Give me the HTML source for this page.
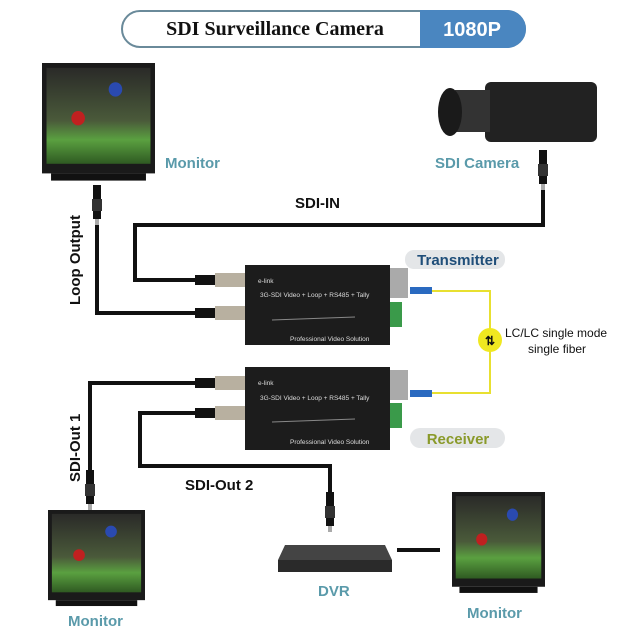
<!DOCTYPE html>
<html><head><meta charset="utf-8"><style>
html,body{margin:0;padding:0;background:#fff}
svg{display:block}
.lbl{font-family:"Liberation Sans",sans-serif;font-weight:bold;fill:#5a9aaa;font-size:15px}
.blk{font-family:"Liberation Sans",sans-serif;font-weight:bold;fill:#111;font-size:15px}
.box{font-family:"Liberation Sans",sans-serif;fill:#ddd;font-size:6.5px}
</style></head><body>
<svg width="640" height="640" viewBox="0 0 640 640" xmlns="http://www.w3.org/2000/svg">
<defs>
<linearGradient id="scr" x1="0" y1="0" x2="0" y2="1">
<stop offset="0" stop-color="#2a2a28"/><stop offset="0.55" stop-color="#4a5a3a"/><stop offset="0.75" stop-color="#5aa040"/><stop offset="1" stop-color="#2f5a22"/></linearGradient>
<g id="mon">
<rect x="0" y="0" width="100" height="92" fill="#1a1a1a"/>
<rect x="4" y="4" width="92" height="80" fill="url(#scr)"/>
<circle cx="65" cy="22" r="6" fill="#2a4ab0"/><circle cx="32" cy="46" r="6" fill="#c02020"/>
<rect x="8" y="92" width="84" height="6" fill="#111"/>
</g>
<g id="conn">
<rect x="-4" y="0" width="8" height="34" fill="#111"/>
<rect x="-5" y="14" width="10" height="12" fill="#333"/>
<rect x="-2" y="34" width="4" height="6" fill="#aaa"/>
</g>
<g id="hconn">
<rect x="0" y="-5" width="20" height="10" fill="#111"/>
<rect x="20" y="-7" width="30" height="14" fill="#b8b0a0"/>
</g>
</defs>
<!-- header -->
<rect x="122" y="11" width="403" height="36" rx="18" fill="#fff" stroke="#6a8a9a" stroke-width="2"/>
<path d="M420 10 H507 A18 18 0 0 1 507 48 H420 Z" fill="#4a86c0"/>
<text x="275" y="35" text-anchor="middle" font-family="Liberation Serif,serif" font-weight="bold" font-size="20" fill="#111">SDI Surveillance Camera</text>
<text x="472" y="36" text-anchor="middle" font-family="Liberation Sans,sans-serif" font-weight="bold" font-size="20" fill="#fff">1080P</text>
<!-- wires -->
<g fill="none" stroke="#111" stroke-width="4">
<path d="M543 165 V225 H135 V280 H195"/>
<path d="M97 190 V313 H195"/>
<path d="M195 383 H90 V480"/>
<path d="M195 413 H140 V466 H330 V510"/>
<path d="M397 550 H440"/>
</g>
<path d="M430 291 H490 V393 H430" fill="none" stroke="#e8e030" stroke-width="2"/>
<circle cx="490" cy="340" r="12" fill="#f0e820"/>
<text x="490" y="345" text-anchor="middle" font-size="12" font-weight="bold" fill="#111">⇅</text>
<!-- monitors -->
<use href="#mon" transform="translate(42,63) scale(1.13,1.2)"/>
<use href="#mon" transform="translate(48,510) scale(0.97,0.98)"/>
<use href="#mon" transform="translate(452,492) scale(0.93,1.03)"/>
<use href="#conn" x="97" y="185"/>
<use href="#conn" x="543" y="150"/>
<use href="#conn" x="90" y="470"/>
<use href="#conn" x="330" y="492"/>
<!-- camera -->
<rect x="485" y="82" width="112" height="60" rx="6" fill="#222"/>
<rect x="455" y="90" width="35" height="42" fill="#333"/>
<ellipse cx="450" cy="112" rx="12" ry="24" fill="#1a1a1a"/>
<!-- DVR -->
<path d="M285 545 L385 545 L392 560 L278 560 Z" fill="#444"/>
<rect x="278" y="560" width="114" height="12" fill="#2a2a2a"/>
<!-- transmitter -->
<use href="#hconn" x="195" y="280"/>
<use href="#hconn" x="195" y="313"/>
<rect x="245" y="265" width="145" height="80" fill="#1c1c1c"/>
<rect x="390" y="268" width="18" height="30" fill="#aaa"/>
<rect x="410" y="287" width="22" height="7" fill="#2a6ac0"/>
<rect x="390" y="302" width="12" height="25" fill="#3a9a4a"/>
<text class="box" x="258" y="283">e-link</text>
<text class="box" x="260" y="297">3G-SDI Video + Loop + RS485 + Tally</text>
<line x1="272" y1="320" x2="355" y2="317" stroke="#888"/>
<text class="box" x="290" y="341">Professional Video Solution</text>
<!-- receiver -->
<use href="#hconn" x="195" y="383"/>
<use href="#hconn" x="195" y="413"/>
<rect x="245" y="367" width="145" height="83" fill="#1c1c1c"/>
<rect x="390" y="370" width="18" height="30" fill="#aaa"/>
<rect x="410" y="390" width="22" height="7" fill="#2a6ac0"/>
<rect x="390" y="403" width="12" height="25" fill="#3a9a4a"/>
<text class="box" x="258" y="385">e-link</text>
<text class="box" x="260" y="400">3G-SDI Video + Loop + RS485 + Tally</text>
<line x1="272" y1="422" x2="355" y2="419" stroke="#888"/>
<text class="box" x="290" y="444">Professional Video Solution</text>
<!-- pills -->
<rect x="405" y="250" width="100" height="19" rx="9" fill="#e4e6e8"/>
<text x="458" y="265" text-anchor="middle" font-family="Liberation Sans,sans-serif" font-weight="bold" font-size="15" fill="#1f4e79">Transmitter</text>
<rect x="410" y="428" width="95" height="20" rx="10" fill="#e4e6e8"/>
<text x="458" y="444" text-anchor="middle" font-family="Liberation Sans,sans-serif" font-weight="bold" font-size="15" fill="#8a9a2a">Receiver</text>
<!-- labels -->
<text class="lbl" x="165" y="168">Monitor</text>
<text class="lbl" x="435" y="168">SDI Camera</text>
<text class="blk" x="295" y="208">SDI-IN</text>
<text class="blk" transform="translate(80,305) rotate(-90)">Loop Output</text>
<text class="blk" transform="translate(80,482) rotate(-90)">SDI-Out 1</text>
<text class="blk" x="185" y="490">SDI-Out 2</text>
<text font-family="Liberation Sans,sans-serif" font-size="12" fill="#111" x="505" y="337">LC/LC single mode</text>
<text font-family="Liberation Sans,sans-serif" font-size="12" fill="#111" x="528" y="353">single fiber</text>
<text class="lbl" x="68" y="626">Monitor</text>
<text class="lbl" x="318" y="596">DVR</text>
<text class="lbl" x="467" y="618">Monitor</text>
</svg>
</body></html>
